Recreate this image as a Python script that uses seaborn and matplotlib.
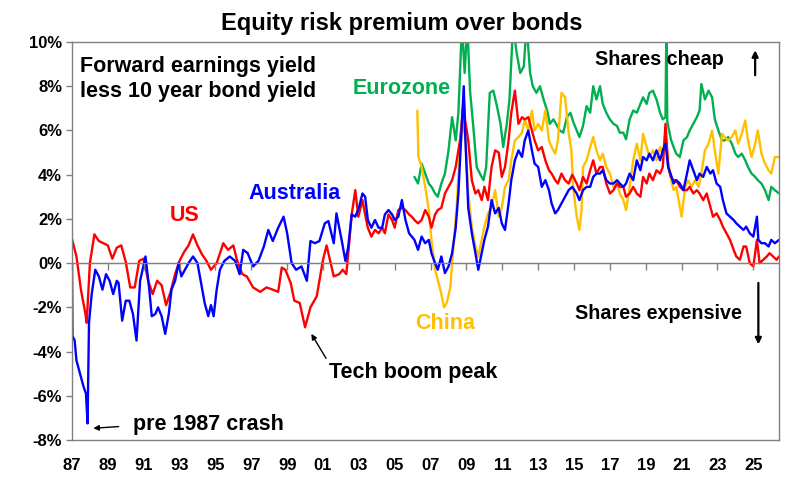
import pandas as pd
import seaborn as sns
import matplotlib.pyplot as plt

# =========================
# DATA (% points)
# =========================
us_years = [1987.0, 1987.25, 1987.5, 1987.75, 1987.82, 1988.0, 1988.25, 1988.5, 1988.75, 1989.0,
            1989.25, 1989.5, 1989.75, 1990.0, 1990.25, 1990.5, 1990.75, 1991.0, 1991.25, 1991.5,
            1991.75, 1992.0, 1992.25, 1992.5, 1992.75, 1993.0, 1993.25, 1993.5, 1993.75, 1994.0,
            1994.25, 1994.5, 1994.75, 1995.07, 1995.44, 1995.7, 1996.0, 1996.2, 1996.5, 1996.75,
            1997.1, 1997.5, 1997.85, 1998.2, 1998.5, 1998.7, 1998.9, 1999.2, 1999.4, 1999.7,
            2000.0, 2000.3, 2000.65, 2001.0, 2001.2, 2001.6, 2001.9, 2002.1, 2002.3, 2002.45,
            2002.6, 2002.8, 2002.97, 2003.2, 2003.35, 2003.5, 2003.7, 2003.9, 2004.1, 2004.3,
            2004.45, 2004.65, 2004.85, 2005.0, 2005.2, 2005.4, 2005.6, 2005.8, 2005.95, 2006.1,
            2006.3, 2006.5, 2006.7, 2006.9, 2007.05, 2007.25, 2007.4, 2007.6, 2007.8, 2008.0,
            2008.2, 2008.4, 2008.65, 2008.85, 2008.92, 2009.1, 2009.3, 2009.5, 2009.66, 2009.85,
            2010.0, 2010.2, 2010.4, 2010.6, 2010.8, 2010.97, 2011.15, 2011.35, 2011.5, 2011.7,
            2011.9, 2012.1, 2012.25, 2012.45, 2012.65, 2012.8, 2013.0, 2013.2, 2013.4, 2013.6,
            2013.75, 2013.95, 2014.1, 2014.3, 2014.5, 2014.7, 2014.9, 2015.15, 2015.3, 2015.5,
            2015.7, 2015.9, 2016.07, 2016.25, 2016.45, 2016.6, 2016.8, 2017.0, 2017.2, 2017.4,
            2017.55, 2017.75, 2017.9, 2018.1, 2018.3, 2018.5, 2018.7, 2018.85, 2019.05, 2019.2,
            2019.4, 2019.6, 2019.8, 2019.95, 2020.1, 2020.25, 2020.4, 2020.55, 2020.7, 2020.9,
            2021.1, 2021.3, 2021.45, 2021.65, 2021.85, 2022.0, 2022.2, 2022.4, 2022.6, 2022.75,
            2022.95, 2023.15, 2023.3, 2023.5, 2023.7, 2023.9, 2024.05, 2024.25, 2024.45, 2024.6,
            2024.8, 2025.0, 2025.2, 2025.35, 2025.55, 2025.75, 2025.9, 2026.1, 2026.3, 2026.43]
us_vals = [1.1, 0.3, -1.2, -2.3, -2.7, 0.0, 1.3, 1.0, 0.9, 0.8,
           0.2, 0.7, 0.8, 0.05, -1.1, -1.1, 0.1, 0.2, -0.8, -1.4,
           -0.8, -1.0, -1.9, -1.3, -0.5, 0.1, 0.5, 0.8, 1.3, 0.8,
           0.4, 0.1, -0.3, 0.0, 0.9, 0.6, 0.8, 0.15, -0.5, -0.6,
           -1.1, -1.3, -1.1, -1.2, -1.3, -0.2, -0.3, -0.9, -1.7, -1.8,
           -2.9, -2.0, -1.5, 0.15, 0.8, -0.6, -0.5, -0.3, -0.5, 0.8,
           2.2, 3.3, 2.1, 2.85, 2.2, 1.6, 1.2, 1.5, 1.35, 1.6,
           1.35, 2.2, 1.95, 1.6, 2.4, 2.5, 2.4, 2.2, 2.1, 1.95,
           1.8, 1.95, 2.4, 2.1, 1.6, 2.2, 2.4, 2.5, 3.15, 3.45,
           3.75, 4.35, 5.6, 7.4, 6.5, 5.55, 3.75, 3.15, 3.3, 2.85,
           3.45, 2.85, 4.35, 5.1, 5.0, 3.9, 4.35, 5.55, 6.8, 7.8,
           6.3, 6.6, 6.5, 6.6, 6.0, 5.55, 5.1, 5.25, 4.65, 4.2,
           4.05, 3.75, 3.6, 4.05, 3.75, 3.6, 4.0, 3.6, 3.3, 3.9,
           3.6, 4.2, 4.65, 4.05, 4.35, 4.35, 3.6, 3.15, 3.3, 3.6,
           3.45, 3.45, 3.0, 3.15, 3.45, 3.15, 3.0, 3.9, 3.6, 4.05,
           3.75, 4.2, 4.05, 4.35, 6.3, 4.35, 3.9, 3.75, 3.75, 3.45,
           3.3, 3.3, 3.45, 3.15, 3.3, 3.15, 2.85, 3.15, 2.55, 2.1,
           2.25, 1.95, 1.65, 1.35, 1.05, 0.6, 0.3, 0.15, 0.75, 0.75,
           0.0, -0.15, 1.05, 0.0, 0.15, 0.3, 0.45, 0.3, 0.15, 0.3]

aus_years = [1987.0, 1987.03, 1987.15, 1987.25, 1987.45, 1987.65, 1987.78, 1987.87, 1987.95, 1988.1,
             1988.3, 1988.5, 1988.7, 1988.9, 1989.1, 1989.3, 1989.5, 1989.6, 1989.8, 1990.0,
             1990.2, 1990.4, 1990.6, 1990.8, 1991.1, 1991.3, 1991.45, 1991.65, 1991.8, 1992.0,
             1992.2, 1992.4, 1992.55, 1992.75, 1992.95, 1993.1, 1993.3, 1993.5, 1993.75, 1994.0,
             1994.2, 1994.4, 1994.6, 1994.75, 1994.9, 1995.07, 1995.25, 1995.5, 1995.8, 1996.1,
             1996.35, 1996.55, 1996.8, 1997.1, 1997.4, 1997.7, 1997.95, 1998.2, 1998.5, 1998.8,
             1999.0, 1999.25, 1999.5, 1999.8, 2000.1, 2000.3, 2000.55, 2000.8, 2001.1, 2001.3,
             2001.6, 2001.75, 2002.05, 2002.25, 2002.4, 2002.6, 2002.8, 2003.0, 2003.2, 2003.35,
             2003.5, 2003.7, 2003.9, 2004.1, 2004.3, 2004.45, 2004.65, 2004.85, 2005.0, 2005.2,
             2005.4, 2005.6, 2005.8, 2005.95, 2006.1, 2006.3, 2006.5, 2006.7, 2006.9, 2007.05,
             2007.25, 2007.4, 2007.6, 2007.8, 2008.0, 2008.2, 2008.4, 2008.55, 2008.85, 2008.92,
             2009.1, 2009.3, 2009.5, 2009.66, 2009.85, 2010.0, 2010.2, 2010.4, 2010.6, 2010.8,
             2010.97, 2011.15, 2011.35, 2011.5, 2011.7, 2011.9, 2012.1, 2012.25, 2012.45, 2012.65,
             2012.8, 2013.0, 2013.2, 2013.4, 2013.6, 2013.75, 2013.95, 2014.1, 2014.3, 2014.5,
             2014.7, 2014.9, 2015.15, 2015.3, 2015.5, 2015.7, 2015.9, 2016.07, 2016.25, 2016.45,
             2016.6, 2016.8, 2017.0, 2017.2, 2017.4, 2017.55, 2017.75, 2017.9, 2018.1, 2018.3,
             2018.5, 2018.7, 2018.85, 2019.05, 2019.2, 2019.4, 2019.6, 2019.8, 2019.95, 2020.1,
             2020.25, 2020.4, 2020.55, 2020.7, 2020.9, 2021.1, 2021.3, 2021.45, 2021.65, 2021.85,
             2022.0, 2022.2, 2022.4, 2022.6, 2022.75, 2022.95, 2023.15, 2023.3, 2023.5, 2023.7,
             2023.9, 2024.05, 2024.25, 2024.45, 2024.6, 2024.8, 2025.0, 2025.2, 2025.28, 2025.45,
             2025.65, 2025.85, 2026.0, 2026.2, 2026.43]
aus_vals = [0.0, -3.3, -3.5, -4.4, -5.0, -5.6, -5.9, -7.25, -2.7, -1.4,
            -0.3, -0.6, -1.2, -0.5, -0.8, -1.4, -0.8, -0.9, -2.6, -1.7,
            -1.7, -2.3, -3.5, -0.8, 0.3, -1.1, -2.4, -2.3, -2.0, -2.4,
            -3.2, -2.3, -1.2, -0.8, 0.0, -0.6, -0.3, 0.0, 0.3, 0.0,
            -0.9, -1.8, -2.4, -1.9, -2.4, -1.2, -0.3, 0.1, 0.3, 0.1,
            -0.5, 0.6, 0.45, -0.15, 0.1, 0.75, 1.5, 1.0, 1.6, 2.1,
            1.35, 0.0, -0.3, -0.15, -0.8, 1.0, 0.9, 1.0, 1.8, 1.9,
            0.9, 2.25, 1.0, 0.1, 0.7, 2.2, 2.1, 2.5, 3.15, 3.0,
            1.95, 1.6, 1.95, 1.6, 1.6, 2.2, 2.4, 2.2, 1.95, 2.1,
            2.85, 1.95, 1.35, 1.2, 1.05, 0.6, 1.2, 0.9, 1.05, 0.45,
            0.0, -0.3, 0.3, -0.45, -0.15, 0.45, 1.6, 3.15, 8.0, 6.0,
            2.5, 1.35, 0.45, -0.3, 0.45, 1.05, 1.65, 2.85, 2.25, 2.5,
            1.8, 1.5, 2.7, 3.75, 4.65, 5.1, 4.8, 5.55, 6.0, 5.1,
            4.5, 4.35, 3.45, 3.75, 3.3, 2.7, 2.25, 2.4, 2.7, 3.0,
            3.3, 3.45, 3.15, 2.85, 3.3, 3.45, 3.45, 3.9, 4.05, 4.05,
            4.2, 3.75, 3.6, 3.6, 3.75, 3.6, 3.45, 3.6, 4.05, 3.75,
            4.65, 4.2, 4.8, 4.65, 4.95, 4.65, 5.1, 4.65, 5.1, 5.4,
            4.35, 4.0, 3.6, 3.75, 3.6, 3.3, 4.05, 4.65, 4.2, 3.75,
            4.05, 3.9, 4.35, 4.05, 4.2, 3.6, 3.45, 2.85, 2.25, 2.1,
            1.95, 1.8, 1.65, 1.5, 1.65, 1.35, 1.2, 2.1, 1.05, 0.9,
            0.9, 0.75, 1.05, 0.9, 1.05]

euro_years = [2006.1, 2006.3, 2006.5, 2006.7, 2006.9, 2007.05, 2007.25, 2007.4, 2007.6, 2007.8,
              2008.0, 2008.2, 2008.4, 2008.55, 2008.75, 2008.9, 2009.05, 2009.2, 2009.4, 2009.57,
              2009.75, 2009.95, 2010.1, 2010.3, 2010.5, 2010.7, 2010.9, 2011.05, 2011.25, 2011.4,
              2011.6, 2011.8, 2012.0, 2012.2, 2012.35, 2012.55, 2012.7, 2012.9, 2013.1, 2013.3,
              2013.5, 2013.65, 2013.85, 2014.0, 2014.2, 2014.4, 2014.6, 2014.8, 2014.95, 2015.15,
              2015.3, 2015.5, 2015.7, 2015.9, 2016.07, 2016.25, 2016.45, 2016.6, 2016.8, 2017.0,
              2017.2, 2017.4, 2017.55, 2017.75, 2017.9, 2018.1, 2018.3, 2018.5, 2018.7, 2018.85,
              2019.05, 2019.2, 2019.4, 2019.6, 2019.8, 2019.95, 2020.1, 2020.15, 2020.2, 2020.4,
              2020.55, 2020.7, 2020.9, 2021.1, 2021.3, 2021.45, 2021.65, 2021.85, 2022.0, 2022.1,
              2022.3, 2022.5, 2022.7, 2022.85, 2023.05, 2023.25, 2023.4, 2023.6, 2023.8, 2024.0,
              2024.15, 2024.35, 2024.55, 2024.7, 2024.9, 2025.1, 2025.25, 2025.45, 2025.65, 2025.85,
              2026.0, 2026.2, 2026.43]
euro_vals = [3.9, 3.6, 4.5, 4.05, 3.6, 3.45, 3.15, 3.0, 3.6, 4.05,
             5.1, 6.6, 5.55, 6.8, 10.8, 8.6, 10.8, 7.8, 6.0, 4.35,
             4.05, 3.75, 4.35, 7.7, 7.8, 7.1, 6.3, 5.25, 6.3, 7.4,
             10.8, 9.5, 8.6, 8.9, 10.8, 8.6, 8.0, 7.7, 8.0, 7.4,
             6.9, 6.3, 6.5, 6.3, 6.0, 5.9, 6.6, 6.8, 6.4, 6.0,
             5.7, 6.2, 7.1, 6.8, 8.0, 7.4, 8.0, 7.2, 6.8, 6.5,
             6.3, 6.2, 5.9, 5.9, 5.6, 6.5, 6.9, 6.8, 7.2, 7.5,
             7.2, 7.7, 7.8, 7.4, 6.8, 6.5, 6.6, 10.8, 6.4, 5.6,
             5.25, 4.95, 4.8, 5.55, 5.7, 6.0, 6.3, 6.6, 6.9, 8.1,
             7.4, 7.8, 7.5, 6.5, 6.0, 5.55, 5.55, 5.7, 5.4, 4.95,
             4.8, 4.95, 4.65, 4.35, 4.05, 3.9, 3.75, 3.6, 3.3, 2.85,
             3.45, 3.3, 3.15]

china_years = [2006.26, 2006.32, 2006.5, 2006.7, 2006.9, 2007.05, 2007.25, 2007.4, 2007.6, 2007.75,
               2007.9, 2008.1, 2008.3, 2008.45, 2008.65, 2008.85, 2008.95, 2009.1, 2009.3, 2009.5,
               2009.66, 2009.85, 2010.0, 2010.2, 2010.4, 2010.6, 2010.8, 2010.97, 2011.15, 2011.35,
               2011.5, 2011.7, 2011.9, 2012.1, 2012.25, 2012.45, 2012.65, 2012.8, 2013.0, 2013.2,
               2013.4, 2013.6, 2013.75, 2013.95, 2014.1, 2014.3, 2014.5, 2014.7, 2014.85, 2014.95,
               2015.15, 2015.3, 2015.42, 2015.5, 2015.7, 2015.9, 2016.07, 2016.25, 2016.45, 2016.6,
               2016.8, 2017.0, 2017.2, 2017.4, 2017.55, 2017.75, 2017.9, 2018.1, 2018.3, 2018.5,
               2018.7, 2018.85, 2019.05, 2019.2, 2019.4, 2019.6, 2019.8, 2019.95, 2020.1, 2020.25,
               2020.4, 2020.55, 2020.7, 2020.9, 2021.0, 2021.2, 2021.35, 2021.55, 2021.75, 2021.95,
               2022.1, 2022.3, 2022.5, 2022.7, 2022.85, 2023.05, 2023.25, 2023.4, 2023.6, 2023.8,
               2024.0, 2024.15, 2024.35, 2024.55, 2024.7, 2024.9, 2025.1, 2025.25, 2025.45, 2025.65,
               2025.85, 2026.0, 2026.2, 2026.43]
china_vals = [6.9, 4.8, 4.35, 3.45, 2.4, 1.05, -0.3, -0.75, -1.4, -2.0,
              -1.8, -1.1, 1.05, 2.5, 5.25, 6.5, 5.5, 3.15, 1.65, 0.75,
              0.3, 1.05, 1.65, 2.25, 2.5, 3.3, 2.1, 2.5, 3.45, 3.75,
              4.65, 5.55, 5.7, 5.9, 6.5, 6.0, 6.9, 6.0, 6.3, 6.0,
              6.9, 5.55, 5.25, 4.95, 5.55, 7.7, 7.5, 5.9, 5.1, 3.45,
              2.1, 1.5, 2.4, 4.35, 4.65, 5.25, 5.7, 5.1, 4.65, 4.95,
              4.35, 4.05, 3.45, 3.6, 3.15, 2.85, 2.4, 3.45, 4.65, 5.4,
              4.65, 5.85, 5.25, 4.8, 5.1, 4.65, 5.25, 4.95, 5.85, 4.65,
              3.8, 3.3, 3.45, 2.55, 2.1, 3.45, 3.75, 3.45, 3.75, 3.45,
              4.05, 5.1, 5.4, 6.0, 5.1, 4.05, 5.85, 5.7, 5.55, 5.7,
              6.0, 5.4, 5.85, 6.45, 5.55, 4.8, 5.4, 6.0, 4.95, 4.5,
              4.2, 4.05, 4.8, 4.8]

series_names = ["Eurozone", "China", "US", "Australia"]
series_colors = ["#00B050", "#FFC000", "#FF0000", "#0000FF"]

x_ticks = list(range(1987, 2026, 2))
x_labels = [f"{y % 100:02d}" for y in x_ticks]
y_ticks = list(range(-8, 11, 2))
y_labels = [f"{v}%" for v in y_ticks]

# =========================
# LONG TABLE FOR SEABORN
# =========================
frames = [
    pd.DataFrame({"year": euro_years, "erp": euro_vals, "region": "Eurozone"}),
    pd.DataFrame({"year": china_years, "erp": china_vals, "region": "China"}),
    pd.DataFrame({"year": us_years, "erp": us_vals, "region": "US"}),
    pd.DataFrame({"year": aus_years, "erp": aus_vals, "region": "Australia"}),
]
df = pd.concat(frames, ignore_index=True)

# =========================
# PLOT
# =========================
sns.set_style("white")
plt.rcParams["font.family"] = ["Liberation Sans", "DejaVu Sans"]
plt.rcParams["text.color"] = "black"
plt.rcParams["xtick.labelcolor"] = "black"
plt.rcParams["ytick.labelcolor"] = "black"

fig = plt.figure(figsize=(7.97, 4.84), dpi=100)
ax = fig.add_axes([0.0903, 0.0909, 0.8871, 0.8223])

sns.lineplot(data=df, x="year", y="erp", hue="region", hue_order=series_names,
             palette=dict(zip(series_names, series_colors)), estimator=None,
             linewidth=1.7, legend=False, ax=ax)

ax.set_xlim(1987.0, 2026.43)
ax.set_ylim(-8, 10)
ax.set_xlabel("")
ax.set_ylabel("")

ax.set_xticks(x_ticks)
ax.set_xticklabels(x_labels, fontsize=12, fontweight="bold", color="black")
ax.set_yticks(y_ticks)
ax.set_yticklabels(y_labels, fontsize=12, fontweight="bold", color="black")
ax.tick_params(axis="x", length=0, pad=13)
ax.tick_params(axis="y", direction="out", length=4, width=1, color="#808080", pad=3, left=True)

for sp in ax.spines.values():
    sp.set_color("#808080")
    sp.set_linewidth(1.0)

# zero line with its own tick marks
ax.axhline(0, color="#808080", lw=1.0, zorder=1)
ax2 = ax.twiny()
ax2.set_xlim(ax.get_xlim())
ax2.set_xticks(x_ticks)
ax2.spines["bottom"].set_position(("data", 0))
ax2.xaxis.set_ticks_position("bottom")
ax2.tick_params(axis="x", direction="out", length=5, width=1, color="#808080", labelbottom=False, labeltop=False)
for name, sp in ax2.spines.items():
    sp.set_visible(name == "bottom")
ax2.spines["bottom"].set_color("#808080")

# =========================
# TEXT
# =========================
fig.text(0.5035, 0.938, "Equity risk premium over bonds", ha="center", va="baseline",
         fontsize=17, fontweight="bold", color="black")

bold = dict(fontsize=15.5, fontweight="bold")
side = dict(fontsize=14.2, fontweight="bold")
ax.text(1987.45, 8.91, "Forward earnings yield", ha="left", va="center", **bold)
ax.text(1987.45, 7.74, "less 10 year bond yield", ha="left", va="center", **bold)
ax.text(1993.3, 2.17, "US", color="#FF0000", ha="center", va="center", **bold)
ax.text(1999.44, 3.17, "Australia", color="#0000FF", ha="center", va="center", **bold)
ax.text(2005.4, 7.92, "Eurozone", color="#00B050", ha="center", va="center", **bold)
ax.text(2007.8, -2.71, "China", color="#FFC000", ha="center", va="center", **bold)
ax.text(2019.75, 9.19, "Shares cheap", ha="center", va="center", **side)
ax.text(2019.68, -2.26, "Shares expensive", ha="center", va="center", **side)

ax.annotate("", xy=(2025.1, 9.75), xytext=(2025.1, 8.37),
            arrowprops=dict(arrowstyle="-|>", color="black", lw=1.6, mutation_scale=9))
ax.annotate("", xy=(2025.28, -3.8), xytext=(2025.28, -0.77),
            arrowprops=dict(arrowstyle="-|>", color="black", lw=1.6, mutation_scale=9))

ax.annotate("Tech boom peak", xy=(2000.35, -3.2), xytext=(2001.35, -4.93),
            ha="left", va="center", **bold,
            arrowprops=dict(arrowstyle="-|>", color="black", lw=1.0, mutation_scale=8,
                            shrinkA=0, shrinkB=0, relpos=(0.0, 0.9)))
ax.annotate("pre 1987 crash", xy=(1988.19, -7.47), xytext=(1990.4, -7.3),
            ha="left", va="center", **bold,
            arrowprops=dict(arrowstyle="-|>", color="black", lw=1.0, mutation_scale=8,
                            shrinkA=8, shrinkB=0, relpos=(0.0, 0.45)))

fig.savefig("out.png", dpi=100)
